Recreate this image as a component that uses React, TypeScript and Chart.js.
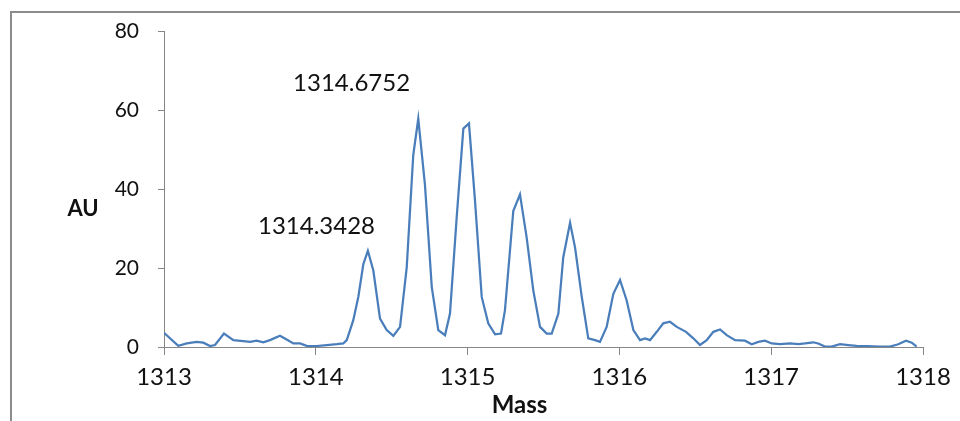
import React, { useEffect, useRef } from "react";
import { Chart, registerables } from "chart.js";

Chart.register(...registerables);

// Mass (x) and intensity AU (y)
const masses = [
  1313.0, 1313.094, 1313.15, 1313.215, 1313.259, 1313.303, 1313.336, 1313.395,
  1313.457, 1313.522, 1313.567, 1313.611, 1313.654, 1313.698, 1313.764, 1313.808,
  1313.852, 1313.896, 1313.94, 1314.006, 1314.072, 1314.138, 1314.181, 1314.204,
  1314.247, 1314.28, 1314.313, 1314.343, 1314.379, 1314.423, 1314.467, 1314.511,
  1314.555, 1314.599, 1314.642, 1314.675, 1314.719, 1314.764, 1314.807, 1314.851,
  1314.884, 1314.928, 1314.972, 1315.009, 1315.049, 1315.093, 1315.136, 1315.181,
  1315.22, 1315.246, 1315.301, 1315.345, 1315.389, 1315.433, 1315.477, 1315.521,
  1315.554, 1315.598, 1315.63, 1315.675, 1315.708, 1315.752, 1315.795, 1315.839,
  1315.872, 1315.916, 1315.96, 1316.004, 1316.048, 1316.092, 1316.136, 1316.169,
  1316.202, 1316.246, 1316.289, 1316.333, 1316.378, 1316.439, 1316.487, 1316.531,
  1316.575, 1316.619, 1316.663, 1316.707, 1316.762, 1316.827, 1316.872, 1316.915,
  1316.959, 1317.003, 1317.058, 1317.124, 1317.179, 1317.223, 1317.277, 1317.31,
  1317.354, 1317.399, 1317.453, 1317.508, 1317.563, 1317.629, 1317.717, 1317.783,
  1317.837, 1317.888, 1317.926, 1317.958,
];

const intensities = [
  3.6, 0.3, 0.9, 1.3, 1.1, 0.25, 0.5, 3.4,
  1.75, 1.5, 1.3, 1.6, 1.2, 1.75, 2.85, 1.9,
  0.9, 0.9, 0.3, 0.25, 0.5, 0.7, 0.9, 1.75,
  6.8, 12.7, 21.0, 24.4, 19.4, 7.2, 4.3, 2.8,
  5.1, 20.2, 48.7, 57.9, 41.2, 15.2, 4.3, 3.0,
  8.5, 32.8, 55.4, 56.7, 37.0, 12.7, 6.0, 3.2,
  3.4, 9.3, 34.5, 38.7, 27.8, 14.3, 5.1, 3.4,
  3.4, 8.5, 22.7, 31.5, 25.2, 12.7, 2.2, 1.75,
  1.3, 5.1, 13.5, 17.0, 11.8, 4.3, 1.75, 2.2,
  1.75, 3.85, 6.0, 6.4, 5.1, 3.85, 2.2, 0.5,
  1.75, 3.85, 4.45, 3.0, 1.75, 1.6, 0.7, 1.3,
  1.6, 0.9, 0.75, 0.9, 0.75, 0.9, 1.2, 0.9,
  0.1, 0.1, 0.7, 0.5, 0.3, 0.25, 0.1, 0.1,
  0.7, 1.6, 1.1, 0.1,
];

const xTicks = [1313, 1314, 1315, 1316, 1317, 1318];
const yTicks = [0, 20, 40, 60, 80];

// Peak annotations: text, and anchor (right edge / baseline) in data units
const peakLabels = ["1314.3428", "1314.6752"];
const peakLabelMass = [1314.39, 1314.621];
const peakLabelAU = [28.7, 65.0];

const xTitle = "Mass";
const yTitle = "AU";

const axisColor = "#868686";
const lineColor = "#4a7ebb";

export default function App() {
  const canvasRef = useRef<HTMLCanvasElement | null>(null);

  useEffect(() => {
    const canvas = canvasRef.current;
    if (!canvas) return;

    const textPlugin = {
      id: "textPlugin",
      afterDraw(chart: any) {
        const ctx = chart.ctx;
        const xs = chart.scales.x;
        const ys = chart.scales.y;
        const area = chart.chartArea;
        ctx.save();
        ctx.fillStyle = "#111";
        ctx.font = "24px Lato";
        ctx.textAlign = "right";
        ctx.textBaseline = "alphabetic";
        for (let i = 0; i < peakLabels.length; i++) {
          ctx.fillText(
            peakLabels[i],
            xs.getPixelForValue(peakLabelMass[i]),
            ys.getPixelForValue(peakLabelAU[i])
          );
        }
        ctx.textAlign = "center";
        ctx.textBaseline = "middle";
        ctx.font = "bold 24px Lato";
        ctx.fillText(xTitle, (area.left + area.right) / 2 - 24, area.bottom + 58);
        ctx.font = "bold 22px Lato";
        ctx.fillText(yTitle, area.left - 81, (area.top + area.bottom) / 2 + 20);
        ctx.restore();
      },
    };

    const chart = new Chart(canvas, {
      type: "line",
      data: {
        datasets: [
          {
            data: masses.map((m, i) => ({ x: m, y: intensities[i] })),
            borderColor: lineColor,
            borderWidth: 2.25,
            pointRadius: 0,
            tension: 0,
            fill: false,
          },
        ],
      },
      options: {
        responsive: false,
        animation: false,
        devicePixelRatio: 1,
        layout: { padding: { left: 0, right: 37, top: 29, bottom: 0 } },
        plugins: {
          legend: { display: false },
          tooltip: { enabled: false },
          title: { display: false },
        },
        scales: {
          x: {
            type: "linear",
            min: xTicks[0],
            max: xTicks[xTicks.length - 1],
            afterBuildTicks: (scale: any) => {
              scale.ticks = xTicks.map((v) => ({ value: v }));
            },
            afterFit: (scale: any) => {
              scale.height = 74;
            },
            border: { display: true, color: axisColor, width: 1 },
            grid: {
              display: true,
              drawOnChartArea: false,
              drawTicks: true,
              tickLength: 8,
              color: axisColor,
            },
            ticks: {
              padding: 8,
              color: "#111",
              font: { family: "Lato", size: 24 },
              maxRotation: 0,
              autoSkip: false,
              callback: (v: any) => String(v),
            },
          },
          y: {
            type: "linear",
            min: yTicks[0],
            max: yTicks[yTicks.length - 1],
            afterBuildTicks: (scale: any) => {
              scale.ticks = yTicks.map((v) => ({ value: v }));
            },
            afterFit: (scale: any) => {
              scale.width = 164;
            },
            border: { display: true, color: axisColor, width: 1 },
            grid: {
              display: true,
              drawOnChartArea: false,
              drawTicks: true,
              tickLength: 6,
              color: axisColor,
            },
            ticks: {
              padding: 19,
              color: "#111",
              font: { family: "Lato", size: 21 },
              callback: (v: any) => String(v),
            },
          },
        },
      },
      plugins: [textPlugin],
    });

    return () => chart.destroy();
  }, []);

  return (
    <div
      style={{
        position: "fixed",
        left: 0,
        top: 0,
        width: 960,
        height: 421,
        overflow: "hidden",
        background: "#ffffff",
      }}
    >
      <div
        style={{
          position: "absolute",
          left: 10,
          top: 11,
          width: 1000,
          height: 500,
          border: "2px solid #8c8c8c",
          boxSizing: "border-box",
        }}
      />
      <canvas
        ref={canvasRef}
        width={960}
        height={421}
        style={{ position: "absolute", left: 0, top: 0, width: 960, height: 421 }}
      />
    </div>
  );
}
